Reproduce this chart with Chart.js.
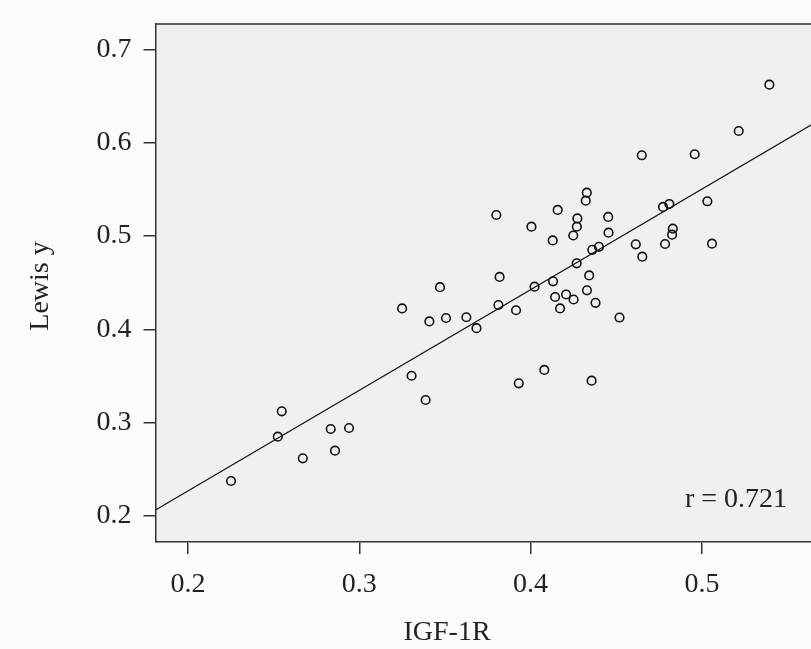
<!DOCTYPE html>
<html>
<head>
<meta charset="utf-8">
<script src="https://cdn.jsdelivr.net/npm/chart.js@4.4.1/dist/chart.umd.min.js"></script>
<style>
  html, body { margin: 0; padding: 0; background: #fdfcfd; }
  #wrap { width: 811px; height: 649px; position: relative; }
</style>
</head>
<body>
<div id="wrap"><canvas id="c" width="811" height="649"></canvas></div>
<script>
// ---- Data ----
const igf1r = [
  0.5394, 0.5215, 0.4649, 0.4958, 0.4328, 0.4322, 0.3800, 0.4158, 0.4453, 0.4773,
  0.4810, 0.5032, 0.4005, 0.4273, 0.4270, 0.4249, 0.4129, 0.4455, 0.4830, 0.4826,
  0.4614, 0.4785, 0.5059, 0.4652, 0.4399, 0.4360, 0.4269, 0.3819, 0.4342, 0.4131,
  0.4023, 0.4329, 0.4143, 0.4207, 0.4251, 0.3471, 0.4172, 0.4379, 0.3812, 0.3915,
  0.4519, 0.3250, 0.3409, 0.3506, 0.3625, 0.3684, 0.3305, 0.3387, 0.3931, 0.4080,
  0.4356, 0.2547, 0.2524, 0.2833, 0.2940, 0.2858, 0.2670, 0.2251
];
const lewisY = [
  0.6623, 0.6126, 0.5866, 0.5877, 0.5465, 0.5379, 0.5226, 0.5280, 0.5205, 0.5312,
  0.5344, 0.5373, 0.5101, 0.5189, 0.5101, 0.5006, 0.4953, 0.5036, 0.5079, 0.5015,
  0.4912, 0.4915, 0.4918, 0.4779, 0.4885, 0.4853, 0.4708, 0.4562, 0.4578, 0.4515,
  0.4458, 0.4419, 0.4347, 0.4374, 0.4320, 0.4452, 0.4224, 0.4285, 0.4261, 0.4205,
  0.4127, 0.4224, 0.4085, 0.4122, 0.4130, 0.4013, 0.3503, 0.3243, 0.3422, 0.3565,
  0.3450, 0.3122, 0.2850, 0.2932, 0.2943, 0.2700, 0.2618, 0.2375
];
// fitted line end points (as drawn in the picture)
const fitX = [0.1810, 0.5637];
const fitY = [0.2064, 0.6191];
// axis ticks
const xTicks = [0.2, 0.3, 0.4, 0.5];
const yTicks = [0.2, 0.3, 0.4, 0.5, 0.6, 0.7];
const xTitle = "IGF-1R";
const yTitle = "Lewis y";
const rLabel = "r = 0.721";

const points = igf1r.map((x, i) => ({ x: x, y: lewisY[i] }));
const fitLine = fitX.map((x, i) => ({ x: x, y: fitY[i] }));

const FONT = "'Liberation Serif', 'Times New Roman', serif";
const INK = '#222';
const AXIS = '#333';

const noPad = s => { s.paddingLeft = 0; s.paddingRight = 0; s.paddingTop = 0; s.paddingBottom = 0; };

const decor = {
  id: 'decor',
  beforeDraw(chart) {
    const { ctx, chartArea: a } = chart;
    ctx.save();
    ctx.fillStyle = '#fdfcfd';
    ctx.fillRect(0, 0, chart.width, chart.height);
    ctx.fillStyle = '#f0f0f0';
    ctx.fillRect(a.left, a.top, a.right - a.left, a.bottom - a.top);
    ctx.restore();
  },
  afterDraw(chart) {
    const { ctx, chartArea: a } = chart;
    ctx.save();
    // top frame line
    ctx.strokeStyle = AXIS;
    ctx.lineWidth = 1.5;
    ctx.beginPath();
    ctx.moveTo(a.left, a.top);
    ctx.lineTo(a.right, a.top);
    ctx.stroke();
    // titles and r label
    ctx.fillStyle = INK;
    ctx.font = '28px ' + FONT;
    ctx.textAlign = 'center';
    ctx.textBaseline = 'middle';
    ctx.fillText(xTitle, 447, 633);
    ctx.save();
    ctx.translate(41, 286);
    ctx.rotate(-Math.PI / 2);
    ctx.fillText(yTitle, 0, 0);
    ctx.restore();
    ctx.textAlign = 'right';
    ctx.textBaseline = 'alphabetic';
    ctx.fillText(rLabel, 787, 507);
    ctx.restore();
  }
};

new Chart(document.getElementById('c'), {
  type: 'scatter',
  data: {
    datasets: [
      {
        label: 'points',
        data: points,
        pointStyle: 'circle',
        pointRadius: 4.3,
        pointBorderWidth: 1.6,
        pointBorderColor: '#111',
        pointBackgroundColor: 'rgba(0,0,0,0)',
        showLine: false
      },
      {
        label: 'fit',
        data: fitLine,
        showLine: true,
        borderColor: '#111',
        borderWidth: 1.2,
        pointRadius: 0,
        fill: false
      }
    ]
  },
  options: {
    responsive: false,
    animation: false,
    devicePixelRatio: 1,
    layout: { autoPadding: false, padding: { top: 24, left: 0, right: 0, bottom: 0 } },
    plugins: {
      legend: { display: false },
      tooltip: { enabled: false }
    },
    scales: {
      x: {
        type: 'linear',
        min: 0.1810,
        max: 0.5637,
        afterBuildTicks: s => { s.ticks = xTicks.map(v => ({ value: v })); },
        afterFit: s => { s.height = 107; noPad(s); },
        grid: { drawOnChartArea: false, drawTicks: true, tickLength: 12, color: AXIS, lineWidth: 1.5 },
        border: { display: true, color: AXIS, width: 1.5 },
        ticks: {
          color: INK,
          padding: 14,
          maxRotation: 0,
          font: { family: FONT, size: 28 },
          callback: v => Number(v).toFixed(1)
        }
      },
      y: {
        type: 'linear',
        min: 0.1721,
        max: 0.7273,
        afterBuildTicks: s => { s.ticks = yTicks.map(v => ({ value: v })); },
        afterFit: s => { s.width = 155.5; noPad(s); },
        grid: { drawOnChartArea: false, drawTicks: true, tickLength: 12, color: AXIS, lineWidth: 1.5 },
        border: { display: true, color: AXIS, width: 1.5 },
        ticks: {
          color: INK,
          padding: 12,
          font: { family: FONT, size: 28 },
          callback: v => Number(v).toFixed(1)
        }
      }
    }
  },
  plugins: [decor]
});
</script>
</body>
</html>
